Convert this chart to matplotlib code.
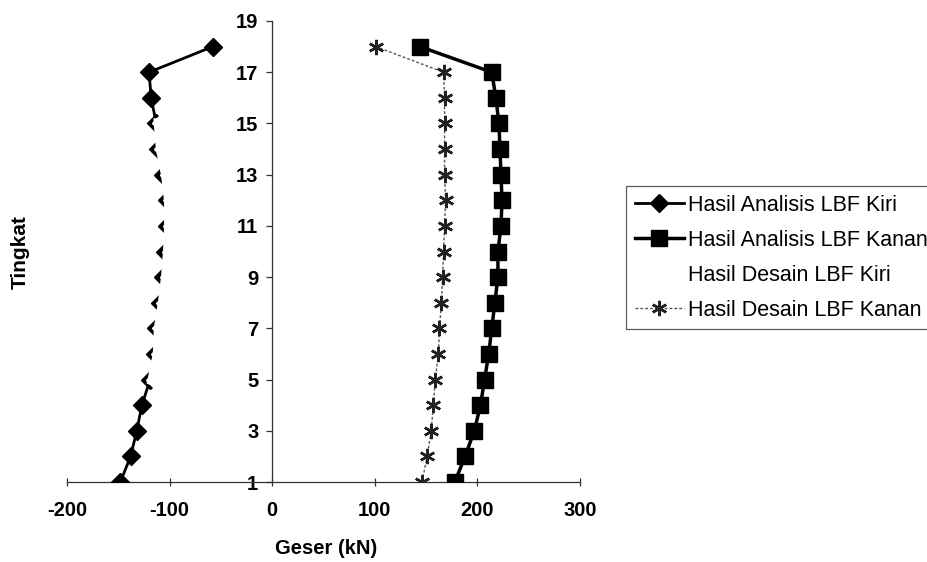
import matplotlib
matplotlib.use("Agg")
import matplotlib.pyplot as plt
import numpy as np

plt.rcParams['font.family'] = ['Liberation Sans', 'DejaVu Sans']
plt.rcParams['axes.unicode_minus'] = False

# Floor levels (Tingkat)
tingkat = list(range(1, 19))

# Shear force per floor (kN)
analisis_kiri = [-148, -138, -132, -127, -119, -114, -113, -109, -106,
                 -104, -103, -103, -106, -111, -113, -118, -120, -58]
analisis_kanan = [178, 188, 197, 203, 207, 211, 214, 217, 220,
                  220, 223, 224, 223, 222, 221, 218, 214, 144]
desain_kiri = [None, None, None, None, -116, -111, -110, -106, -103,
               -101, -100, -100, -103, -108, -110, None, None, None]
desain_kanan = [146, 151, 155, 157, 159, 162, 163, 165, 166,
                167, 168, 169, 168, 168, 168, 168, 167, 101]

x_ticks = [-200, -100, 0, 100, 200, 300]
y_ticks = [1, 3, 5, 7, 9, 11, 13, 15, 17, 19]

fig = plt.figure(figsize=(9.28, 5.62), dpi=100)
ax = fig.add_axes([67 / 928, 1 - 482 / 562, 513 / 928, 461 / 562])

h1, = ax.plot(analisis_kiri, tingkat, color='black', lw=2.0, marker='D',
              markersize=9.5, markerfacecolor='black', markeredgecolor='black',
              label='Hasil Analisis LBF Kiri', zorder=3)
h2, = ax.plot(analisis_kanan, tingkat, color='black', lw=2.5, marker='s',
              markersize=11, markerfacecolor='black', markeredgecolor='black',
              label='Hasil Analisis LBF Kanan', zorder=3)
dk = np.array([np.nan if v is None else v for v in desain_kiri], dtype=float)
h3, = ax.plot(dk, tingkat, color='white', lw=8, marker='D',
              markersize=7.5, markerfacecolor='white', markeredgecolor='white',
              label='Hasil Desain LBF Kiri', zorder=4)
h4, = ax.plot(desain_kanan, tingkat, color='#555555', lw=1.0, ls=(0, (2, 1.5)),
              marker=(6, 2, 0), markersize=11, markeredgewidth=1.8,
              markeredgecolor='#222222', label='Hasil Desain LBF Kanan', zorder=3)

ax.set_xlim(-200, 300)
ax.set_ylim(1, 19)
ax.set_xticks(x_ticks)
ax.set_yticks(y_ticks)

ax.spines['top'].set_visible(False)
ax.spines['right'].set_visible(False)
ax.spines['left'].set_position(('data', 0))
ax.spines['bottom'].set_position(('data', 1))
for s in ('left', 'bottom'):
    ax.spines[s].set_linewidth(0.9)
    ax.spines[s].set_color('#333333')

ax.tick_params(axis='y', direction='out', length=4, width=0.9, pad=6,
               labelsize=14.5, color='#333333')
ax.tick_params(axis='x', direction='inout', length=6, width=0.9, pad=11,
               labelsize=14.5, color='#333333')
for lab in ax.get_xticklabels() + ax.get_yticklabels():
    lab.set_fontweight('bold')

fig.text(20 / 928, 1 - 252 / 562, 'Tingkat', rotation=90, ha='center',
         va='center', fontsize=15, fontweight='bold')
fig.text(326 / 928, 1 - 549 / 562, 'Geser (kN)', ha='center', va='center',
         fontsize=14.5, fontweight='bold')

leg = fig.legend(handles=[h1, h2, h3, h4], loc='upper left',
                 bbox_to_anchor=(626 / 928, 1 - 186 / 562), frameon=True,
                 fancybox=False, edgecolor='#333333', fontsize=15.5,
                 handlelength=2.3, handletextpad=0.2, borderpad=0.4,
                 labelspacing=0.65, borderaxespad=0)
leg.get_frame().set_linewidth(0.9)

fig.savefig('out.png', dpi=100)
